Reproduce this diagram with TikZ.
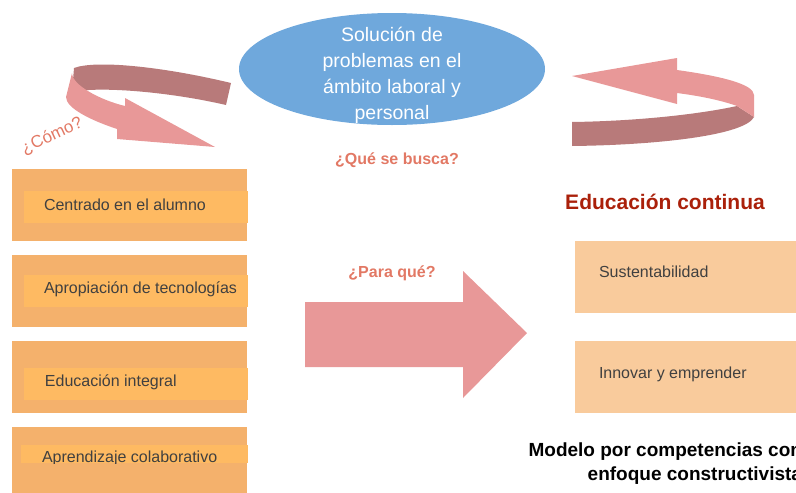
\documentclass[tikz,border=0pt]{standalone}
\usepackage{fontspec}
\setmainfont{Liberation Sans}
\usepackage{tikz}
\usetikzlibrary{positioning, shapes}
\definecolor{ellblue}{RGB}{111,168,220}
\definecolor{arrowlight}{RGB}{232,152,152}
\definecolor{arrowdark}{RGB}{184,122,122}
\definecolor{asktext}{RGB}{226,120,100}
\definecolor{boxorange}{RGB}{244,177,108}
\definecolor{barorange}{RGB}{254,186,98}
\definecolor{boxpeach}{RGB}{249,203,156}
\definecolor{titlered}{RGB}{170,32,10}
\definecolor{itemgray}{RGB}{64,64,64}
\tikzset{
    node distance =14pt and 14pt,% gap between two boxes of one column
}

\begin{document}
\begin{tikzpicture}[x=1pt, y=-1pt
        ,every node/.style ={inner sep=0pt, outer sep=0pt}
        ,outerbox/.style ={rectangle, fill=boxorange, minimum width=235pt, minimum height=72pt}
        ,innerbar/.style ={rectangle, fill=barorange, minimum width=224pt, minimum height=32pt}
        ,peachbox/.style ={rectangle, fill=boxpeach, minimum width=235pt, minimum height=72pt}
        ,itemtext/.style ={anchor=west, text=itemgray, text height=12pt, text depth=3pt, font=\fontsize{16}{19}\selectfont}
        ,ask/.style ={text=asktext, font=\bfseries\fontsize{16}{19}\selectfont},]
            \clip (0,0) rectangle (796,493);
            % curved arrows and the big arrow
            \fill[arrowdark] (231,83) .. controls (160,66) and (95,60) .. (74,68) -- (72,92) .. controls (100,86) and (170,92) .. (226,105) -- cycle;
            \fill[arrowlight] (72,73) .. controls (72,85) and (100,100) .. (125,106) -- (125,98) -- (215,147) -- (117,139) -- (117,129) .. controls (90,120) and (66,108) .. (66,97) -- cycle;
            \fill[arrowdark] (572,122) .. controls (640,121) and (700,114) .. (737,106) -- (754,117) .. controls (745,135) and (660,145) .. (572,146) -- cycle;
            \fill[arrowlight] (572,76) -- (677,58) -- (677,70) .. controls (720,76) and (754,84) .. (754,95) -- (754,117) -- (737,106) .. controls (720,100) and (700,96) .. (677,93) -- (677,104) -- cycle;
            \fill[arrowlight] (305,302) -- (463,302) -- (463,271) -- (527,333) -- (463,398) -- (463,367) -- (305,367) -- cycle;
            % goal
            \node[ellipse, fill=ellblue, minimum width=306pt, minimum height=112pt] (goal) at (392,69) {};
            \node[align=center, text=white, font=\fontsize{19.5}{26}\selectfont] (goaltext) at ([yshift=-6pt]goal.center) {Solución de\\problemas en el\\ámbito laboral y\\personal};
            \node[ask] (busca) at (397,160) {¿Qué se busca?};
            \node[ask] (paraque) at (392,273) {¿Para qué?};
            \node[ask, font=\fontsize{17}{20}\selectfont, rotate=25] (como) at (52,136) {¿Cómo?};
            % left column
            \node[outerbox] (box1) at (129.5,205) {};
            \node[outerbox] (box2) [below =of box1] {};
            \node[outerbox] (box3) [below =of box2] {};
            \node[outerbox] (box4) [below =of box3] {};
            \node[innerbar, anchor=west] (bar1) at ([xshift=12pt, yshift=-2pt]box1.west) {};
            \node[innerbar, anchor=west] (bar2) at ([xshift=12pt]box2.west) {};
            \node[innerbar, anchor=west] (bar3) at ([xshift=12pt, yshift=-6.5pt]box3.west) {};
            \node[innerbar, anchor=west, minimum width=227pt, minimum height=18pt] (bar4) at ([xshift=9pt, yshift=9pt]box4.west) {};
            \node[itemtext] (item1) at ([xshift=20pt, yshift=1.5pt]bar1.west) {Centrado en el alumno};
            \node[itemtext] (item2) at ([xshift=20pt, yshift=1.7pt]bar2.west) {Apropiación de tecnologías};
            \node[itemtext] (item3) at ([xshift=21pt, yshift=1.3pt]bar3.west) {Educación integral};
            \begin{scope}
                \clip (bar4.north west) rectangle (bar4.south east);
                \node[itemtext] (item4) at ([xshift=21pt, yshift=-4pt]bar4.west) {Aprendizaje colaborativo};
            \end{scope}
            % right column
            \node[text=titlered, font=\bfseries\fontsize{21}{24}\selectfont] (title) at (665,202) {Educación continua};
            \node[peachbox] (peach1) at (692.5,277) {};
            \node[peachbox] (peach2) [below =28pt of peach1] {};
            \node[itemtext] (sust) at ([xshift=24pt, yshift=4.2pt]peach1.west) {Sustentabilidad};
            \node[itemtext] (innov) at ([xshift=24pt, yshift=3.2pt]peach2.west) {Innovar y emprender};
            \node[anchor=north east, align=right, font=\bfseries\fontsize{19}{24}\selectfont] (modelo) at (802,443) {Modelo por competencias con\\enfoque constructivista};
        \end{tikzpicture}
\end{document}
